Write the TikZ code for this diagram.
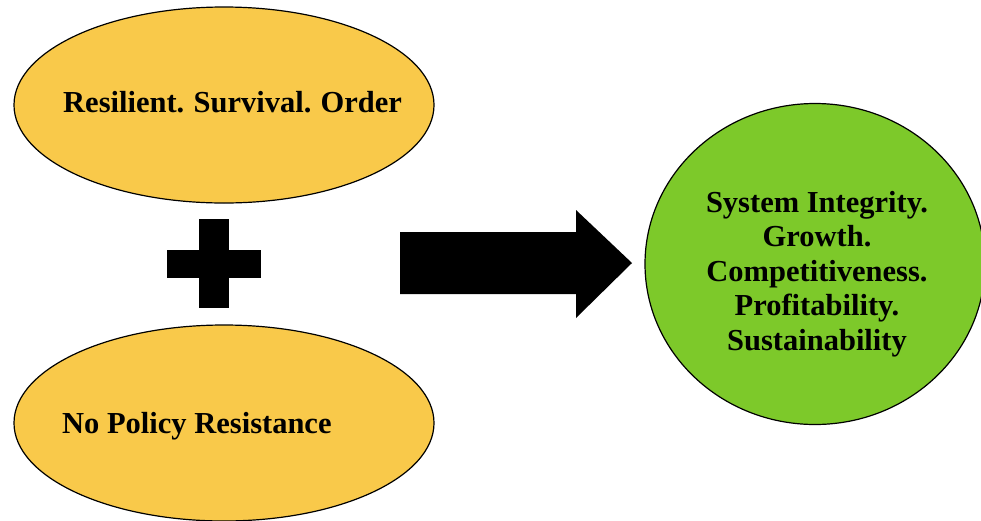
\documentclass[tikz,border=0pt]{standalone}
\usepackage{fontspec}
\setmainfont{Liberation Serif}
\usetikzlibrary{shapes.geometric}
\definecolor{goldfill}{RGB}{249,201,74}
\definecolor{leaffill}{RGB}{125,201,42}
\tikzset{
  blob/.style={ellipse, draw=black, line width=1.2pt, inner sep=0pt},
  goal/.style={blob, fill=goldfill, minimum width=420pt, minimum height=196pt},
  outcome/.style={blob, fill=leaffill, minimum width=340pt, minimum height=321pt},
  caption/.style={font=\fontsize{30.5}{34.5}\selectfont\bfseries, inner sep=0pt, text=black},
  solid shape/.style={fill=black, draw=none}
}
\begin{document}
\begin{tikzpicture}[x=1pt,y=-1pt]
  \useasboundingbox (0,0) rectangle (981,520);

  % the two conditions
  \node[goal] (resilient) at (224,105) {};
  \node[caption, anchor=west] (resilienttext) at (63,102.5)
    {\spaceskip=0.22em plus 0.1em Resilient. Survival. Order};
  \node[goal] (policy) at (224,423) {};
  \node[caption, anchor=west] (policytext) at (62,426) {No Policy Resistance};

  % plus sign between them
  \fill[solid shape] (199,219) rectangle (229,308);
  \fill[solid shape] (167,250) rectangle (261,278);

  % the outcome
  \node[outcome] (result) at (815,264) {};
  \node[caption, align=center] (resulttext) at (817,274)
    {System Integrity.\\Growth.\\Competitiveness.\\Profitability.\\Sustainability};

  % block arrow towards the outcome
  \fill[solid shape] (400,232) -- (576,232) -- (576,210) -- (632,263)
    -- (576,318) -- (576,294) -- (400,294) -- cycle;
\end{tikzpicture}
\end{document}
